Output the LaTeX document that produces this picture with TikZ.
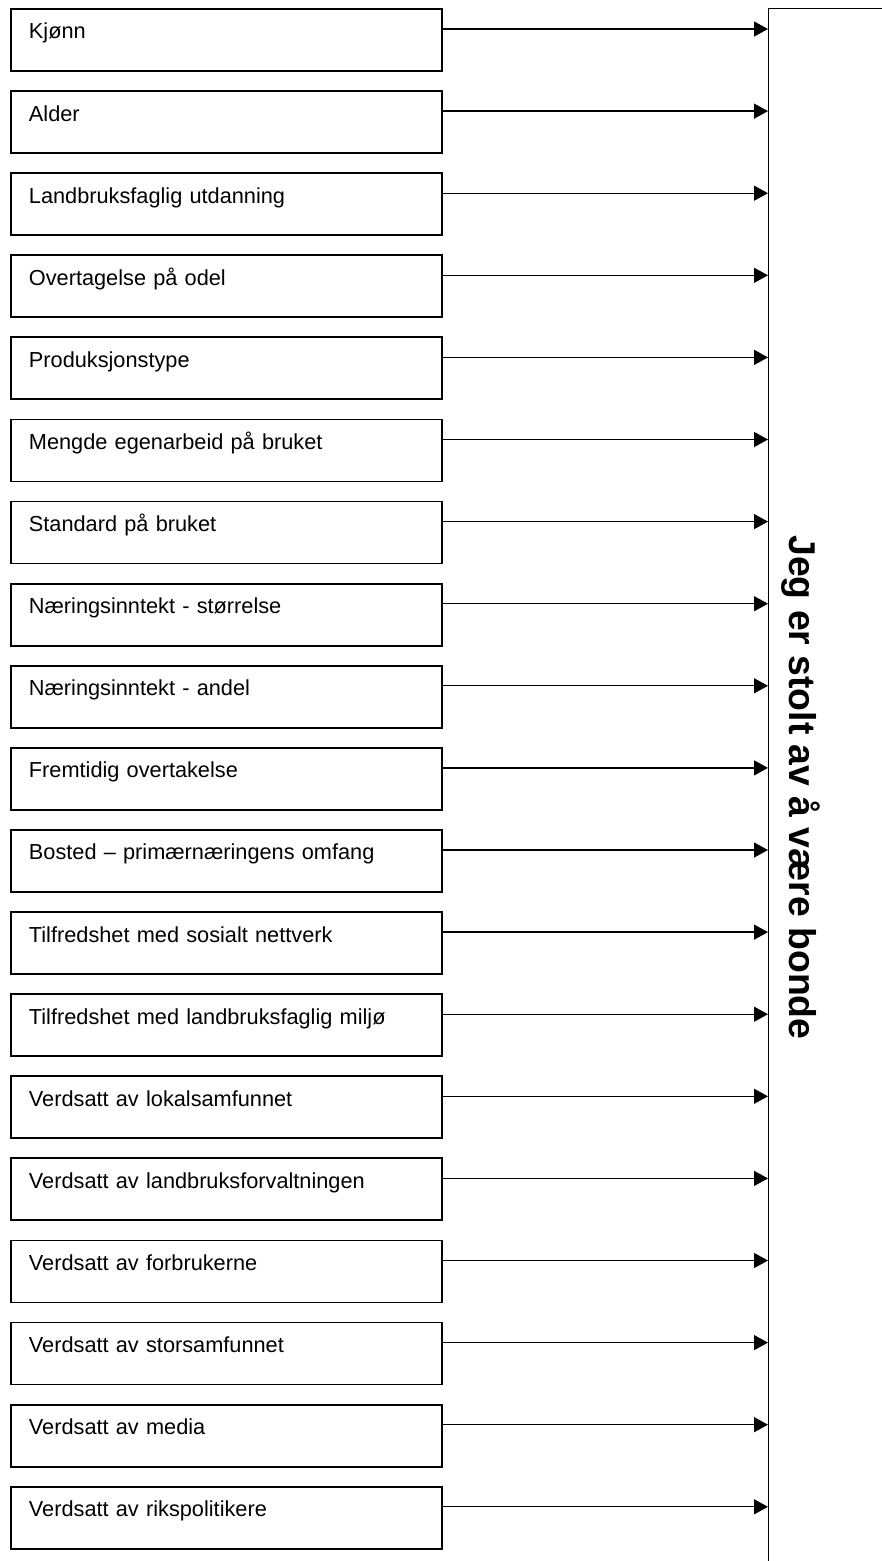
\documentclass[tikz,border=0pt]{standalone}
\usepackage{fontspec}
\setmainfont{Liberation Sans}
\usetikzlibrary{arrows.meta,calc}

\begin{document}
\begin{tikzpicture}[x=0.75pt,y=-0.75pt,
  factor/.style={draw,line width=1.4pt,rectangle,anchor=north west,
    inner xsep=13.5pt,inner ysep=0pt,text width=296.25pt,align=left,
    text height=22.5pt,text depth=24pt,font=\fontsize{16.3}{19}\selectfont},
  effect/.style={-{Triangle[length=10.5pt,width=11.25pt]},line width=1pt}]
\useasboundingbox (0,0) rectangle (882,1561);
\clip (0,0) rectangle (882,1561);
\node[draw,line width=1pt,anchor=north west,inner sep=0pt,
  minimum width=112.5pt,minimum height=1168.5pt] (bonde) at (768,8) {};
\node[rotate=-90,anchor=base,font=\fontsize{28}{34}\selectfont\bfseries] (bondetekst)
  at (789,787.5) {Jeg er stolt av å være bonde};
\foreach \txt [count=\i from 0] in {Kjønn,Alder,Landbruksfaglig utdanning,
  Overtagelse på odel,Produksjonstype,Mengde egenarbeid på bruket,
  Standard på bruket,Næringsinntekt - størrelse,Næringsinntekt - andel,
  Fremtidig overtakelse,Bosted – primærnæringens omfang,
  Tilfredshet med sosialt nettverk,Tilfredshet med landbruksfaglig miljø,
  Verdsatt av lokalsamfunnet,Verdsatt av landbruksforvaltningen,
  Verdsatt av forbrukerne,Verdsatt av storsamfunnet,Verdsatt av media,
  Verdsatt av rikspolitikere} {
  \node[factor] (b\i) at (10,{8+82.1*\i}) {\txt};
  \draw[effect] ($(b\i.north east)+(0,21)$) coordinate (s\i) -- (s\i -| bonde.west);
}
\end{tikzpicture}
\end{document}
